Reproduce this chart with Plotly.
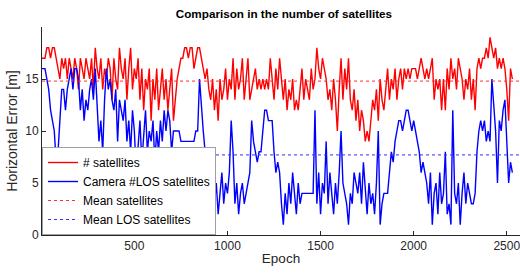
import plotly.graph_objects as go

# ---- data (one value every 10 epochs) ----
epoch_step = 10
num_satellites = [
    17,17,17,18,18,17,18,18,17,16,
    15,17,16,17,15,17,16,15,17,16,
    14,17,16,15,17,16,15,17,14,18,
    16,15,17,14,16,15,17,16,13,17,
    15,14,18,16,15,17,13,16,18,14,
    16,15,17,13,16,12,15,14,16,11,
    15,13,16,12,14,16,13,15,12,14,
    16,11,13,15,16,17,17,18,18,17,
    18,18,16,17,18,18,17,16,15,16,
    14,13,15,12,14,11,15,13,14,16,
    13,15,14,17,13,16,14,15,17,13,
    15,17,13,14,15,16,14,15,14,15,
    14,15,14,17,15,13,16,14,17,15,
    13,15,12,14,13,15,12,13,12,14,
    16,13,15,14,13,16,14,15,18,16,
    15,17,16,15,13,14,12,15,13,10,
    14,17,13,16,14,17,13,12,14,11,
    13,10,12,11,9,10,9,11,13,12,
    14,11,15,13,12,14,16,13,15,14,
    16,13,15,16,14,16,15,16,15,16,
    16,16,15,16,17,16,15,16,15,16,
    17,13,15,14,15,12,15,12,16,14,
    17,15,16,14,17,16,15,13,15,14,
    16,13,15,12,16,17,16,17,17,18,
    17,19,18,17,18,16,17,16,17,16,
    14,11,16,15,
]
num_los = [
    16,16,16,15,14,12,11,10,7,8,
    11,14,14,12,14,15,16,14,16,16,
    15,12,14,11,13,12,14,15,13,16,
    12,9,11,8,13,16,14,15,13,12,
    14,9,13,12,11,13,9,11,8,12,
    10,6,9,11,7,10,12,8,10,9,
    11,7,10,8,11,9,12,10,12,11,
    8,10,10,10,10,9,9,9,9,9,
    9,9,9,10,10,15,12,10,8,7,
    6,4,5,3,5,2,4,6,3,5,
    4,6,11,8,3,5,2,4,5,3,
    4,5,6,11,9,8,7,8,8,10,
    12,12,11,11,11,8,6,7,6,3,
    1,4,2,5,3,6,4,2,5,3,
    4,4,4,4,4,4,4,12,3,6,
    2,5,4,9,3,6,4,2,5,3,
    6,10,5,4,3,1,4,3,6,5,
    4,6,3,7,4,2,5,3,4,2,
    5,10,1,3,4,4,4,6,8,7,
    9,10,11,11,10,11,12,12,11,10,
    11,10,9,8,6,7,6,5,3,6,
    1,4,5,2,6,3,4,8,2,3,
    1,12,4,3,5,1,4,6,3,5,
    4,3,3,4,8,10,11,10,11,9,
    10,9,15,12,10,5,11,10,12,13,
    9,5,7,6,
]
mean_satellites = 14.8
mean_los = 7.7

x_axis_range = [4, 2571]
y_axis_range = [0, 20]
y_ticks = [0, 5, 10, 15]
x_ticks = [500, 1000, 1500, 2000, 2500]

epochs_sat = [i * epoch_step for i in range(len(num_satellites))]
epochs_los = [i * epoch_step for i in range(len(num_los))]

FONT = "Liberation Sans, Arial, sans-serif"
TXT = "#262626"

fig = go.Figure()
fig.add_trace(go.Scatter(x=epochs_sat, y=num_satellites, mode="lines",
                         line=dict(color="#FF0000", width=1.4),
                         name="# satellites"))
fig.add_trace(go.Scatter(x=epochs_los, y=num_los, mode="lines",
                         line=dict(color="#0000FF", width=1.4),
                         name="Camera #LOS satellites"))
fig.add_trace(go.Scatter(x=x_axis_range, y=[mean_satellites] * 2, mode="lines",
                         line=dict(color="#FF3030", width=1, dash="dot"),
                         name="Mean satellites"))
fig.add_trace(go.Scatter(x=x_axis_range, y=[mean_los] * 2, mode="lines",
                         line=dict(color="#3030FF", width=1, dash="dot"),
                         name="Mean LOS satellites"))

fig.update_layout(
    width=520, height=273,
    margin=dict(l=42, r=0, t=27, b=38),
    paper_bgcolor="white", plot_bgcolor="white",
    font=dict(family=FONT, size=12, color=TXT),
    title=dict(text="<b>Comparison in the number of satellites</b>",
               x=0.546, xanchor="center", y=0.948, yanchor="middle",
               font=dict(size=11.7, color="#000000")),
    showlegend=True,
    legend=dict(x=0, y=0, xanchor="left", yanchor="bottom",
                bgcolor="white", bordercolor="#A0A0A0", borderwidth=1,
                font=dict(size=12, color="#000000"), itemwidth=30,
                tracegroupgap=0),
)
fig.update_xaxes(range=x_axis_range, tickvals=x_ticks, ticks="inside", ticklen=4,
                 tickcolor=TXT, showline=True, linecolor=TXT, linewidth=1,
                 showgrid=False, zeroline=False, mirror=False, automargin=False,
                 ticklabeloverflow="allow",
                 tickfont=dict(size=12, color=TXT),
                 title=dict(text="Epoch", font=dict(size=13.5, color=TXT), standoff=1))
fig.update_yaxes(range=y_axis_range, tickvals=y_ticks, ticks="inside", ticklen=4,
                 tickcolor=TXT, showline=True, linecolor=TXT, linewidth=1,
                 showgrid=False, zeroline=False, mirror=False, automargin=False,
                 ticklabeloverflow="allow",
                 tickfont=dict(size=12, color=TXT),
                 title=dict(text="Horizontal Error [m]", font=dict(size=14, color=TXT),
                            standoff=4))

# remove the browser's default 8px page margin so the figure fills the window
fig.write_html("out.html",
               config={"displayModeBar": False},
               post_script="document.body.style.margin='0';"
                           "document.body.style.overflow='hidden';")
